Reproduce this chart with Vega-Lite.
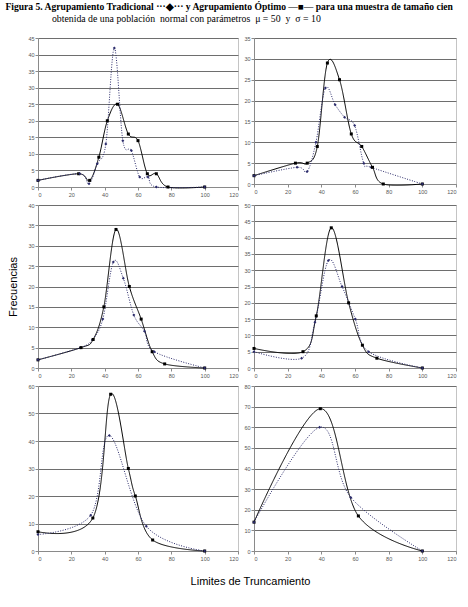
{
  "$schema": "https://vega.github.io/schema/vega-lite/v6.json",
  "padding": {"left": 5, "top": 2, "right": 5, "bottom": 5},
  "background": "white",
  "title": {
    "text": "Figura 5.  Agrupamiento Tradicional ···◆···  y  Agrupamiento Óptimo —■—  para una muestra de tamaño cien",
    "subtitle": "\u200b\u00a0\u00a0\u00a0\u00a0\u00a0\u00a0\u00a0\u00a0\u00a0\u00a0\u00a0\u00a0\u00a0\u00a0\u00a0\u00a0\u00a0\u00a0\u00a0obtenida de una población\u00a0 normal con parámetros\u00a0 μ = 50\u00a0 y\u00a0 σ = 10",
    "anchor": "start",
    "dx": -2,
    "font": "Liberation Serif",
    "fontSize": 9.6,
    "fontWeight": "bold",
    "color": "black",
    "subtitleFont": "Liberation Serif",
    "subtitleFontSize": 9.8,
    "subtitleColor": "black",
    "subtitlePadding": 2,
    "offset": 12
  },
  "datasets": {
    "p1": [
      {"serie": "Óptimo", "x": 0, "y": 2}, {"serie": "Óptimo", "x": 24.4, "y": 4}, {"serie": "Óptimo", "x": 31, "y": 2},
      {"serie": "Óptimo", "x": 36.5, "y": 9}, {"serie": "Óptimo", "x": 41.6, "y": 20}, {"serie": "Óptimo", "x": 47.7, "y": 25},
      {"serie": "Óptimo", "x": 54.2, "y": 16}, {"serie": "Óptimo", "x": 60, "y": 14}, {"serie": "Óptimo", "x": 65.6, "y": 4},
      {"serie": "Óptimo", "x": 71, "y": 4}, {"serie": "Óptimo", "x": 78, "y": 0}, {"serie": "Óptimo", "x": 100, "y": 0},
      {"serie": "Tradicional", "x": 0, "y": 2}, {"serie": "Tradicional", "x": 25, "y": 4}, {"serie": "Tradicional", "x": 30.6, "y": 1},
      {"serie": "Tradicional", "x": 35.6, "y": 7}, {"serie": "Tradicional", "x": 40.7, "y": 13}, {"serie": "Tradicional", "x": 45.8, "y": 42},
      {"serie": "Tradicional", "x": 50.9, "y": 14}, {"serie": "Tradicional", "x": 56, "y": 11}, {"serie": "Tradicional", "x": 61, "y": 3},
      {"serie": "Tradicional", "x": 66, "y": 3}, {"serie": "Tradicional", "x": 71, "y": 0}, {"serie": "Tradicional", "x": 100, "y": 0}
    ],
    "p2": [
      {"serie": "Óptimo", "x": 0, "y": 2}, {"serie": "Óptimo", "x": 24.6, "y": 5}, {"serie": "Óptimo", "x": 31.6, "y": 5},
      {"serie": "Óptimo", "x": 37.6, "y": 9}, {"serie": "Óptimo", "x": 43.6, "y": 29}, {"serie": "Óptimo", "x": 50.8, "y": 25},
      {"serie": "Óptimo", "x": 57.8, "y": 12}, {"serie": "Óptimo", "x": 64, "y": 9}, {"serie": "Óptimo", "x": 70.4, "y": 4},
      {"serie": "Óptimo", "x": 76.8, "y": 0}, {"serie": "Óptimo", "x": 100, "y": 0},
      {"serie": "Tradicional", "x": 0, "y": 2}, {"serie": "Tradicional", "x": 25.6, "y": 4}, {"serie": "Tradicional", "x": 31.6, "y": 3},
      {"serie": "Tradicional", "x": 36.8, "y": 10}, {"serie": "Tradicional", "x": 42.4, "y": 23}, {"serie": "Tradicional", "x": 48.2, "y": 19},
      {"serie": "Tradicional", "x": 53.8, "y": 16}, {"serie": "Tradicional", "x": 59.8, "y": 14}, {"serie": "Tradicional", "x": 65.2, "y": 5},
      {"serie": "Tradicional", "x": 69.6, "y": 4}, {"serie": "Tradicional", "x": 100, "y": 0}
    ],
    "p3": [
      {"serie": "Óptimo", "x": 0, "y": 2}, {"serie": "Óptimo", "x": 25.8, "y": 5}, {"serie": "Óptimo", "x": 33.1, "y": 7},
      {"serie": "Óptimo", "x": 39.5, "y": 15}, {"serie": "Óptimo", "x": 46.8, "y": 34}, {"serie": "Óptimo", "x": 54.8, "y": 20},
      {"serie": "Óptimo", "x": 61.9, "y": 12}, {"serie": "Óptimo", "x": 68.5, "y": 4}, {"serie": "Óptimo", "x": 76, "y": 1},
      {"serie": "Óptimo", "x": 100, "y": 0},
      {"serie": "Tradicional", "x": 0, "y": 2}, {"serie": "Tradicional", "x": 25.4, "y": 5}, {"serie": "Tradicional", "x": 32.7, "y": 7},
      {"serie": "Tradicional", "x": 38.9, "y": 12}, {"serie": "Tradicional", "x": 45.2, "y": 26}, {"serie": "Tradicional", "x": 51.2, "y": 22},
      {"serie": "Tradicional", "x": 57.5, "y": 13}, {"serie": "Tradicional", "x": 63.9, "y": 9}, {"serie": "Tradicional", "x": 69.8, "y": 4},
      {"serie": "Tradicional", "x": 100, "y": 0}
    ],
    "p4": [
      {"serie": "Óptimo", "x": 0, "y": 6}, {"serie": "Óptimo", "x": 29.1, "y": 5}, {"serie": "Óptimo", "x": 37, "y": 16},
      {"serie": "Óptimo", "x": 45.9, "y": 43}, {"serie": "Óptimo", "x": 56.2, "y": 20}, {"serie": "Óptimo", "x": 64.4, "y": 7},
      {"serie": "Óptimo", "x": 73, "y": 3}, {"serie": "Óptimo", "x": 100, "y": 0},
      {"serie": "Tradicional", "x": 0, "y": 5}, {"serie": "Tradicional", "x": 28.3, "y": 3}, {"serie": "Tradicional", "x": 36.2, "y": 14},
      {"serie": "Tradicional", "x": 44.2, "y": 33}, {"serie": "Tradicional", "x": 52.3, "y": 25}, {"serie": "Tradicional", "x": 60.2, "y": 15},
      {"serie": "Tradicional", "x": 68.1, "y": 5}, {"serie": "Tradicional", "x": 100, "y": 0}
    ],
    "p5": [
      {"serie": "Óptimo", "x": 0, "y": 7}, {"serie": "Óptimo", "x": 32.9, "y": 12}, {"serie": "Óptimo", "x": 43.6, "y": 57},
      {"serie": "Óptimo", "x": 54.2, "y": 30}, {"serie": "Óptimo", "x": 58.4, "y": 20}, {"serie": "Óptimo", "x": 68.8, "y": 4},
      {"serie": "Óptimo", "x": 100, "y": 0},
      {"serie": "Tradicional", "x": 0, "y": 6}, {"serie": "Tradicional", "x": 31.6, "y": 13}, {"serie": "Tradicional", "x": 42.8, "y": 42},
      {"serie": "Tradicional", "x": 65, "y": 9}, {"serie": "Tradicional", "x": 100, "y": 0}
    ],
    "p6": [
      {"serie": "Óptimo", "x": 0, "y": 14}, {"serie": "Óptimo", "x": 39.4, "y": 69}, {"serie": "Óptimo", "x": 62, "y": 17},
      {"serie": "Óptimo", "x": 100, "y": 0},
      {"serie": "Tradicional", "x": 0, "y": 14}, {"serie": "Tradicional", "x": 39, "y": 60}, {"serie": "Tradicional", "x": 57.5, "y": 26},
      {"serie": "Tradicional", "x": 100, "y": 0}
    ]
  },
  "concat": [
    {
      "width": 200, "height": 149,
      "data": {"name": "p1"},
      "encoding": {
        "x": {"field": "x", "type": "quantitative", "scale": {"domain": [0, 120], "nice": false}, "axis": {"values": [0, 20, 40, 60, 80, 100, 120], "title": null, "grid": false}},
        "y": {"field": "y", "type": "quantitative", "scale": {"domain": [0, 45], "nice": false}, "axis": {"values": [0, 5, 10, 15, 20, 25, 30, 35, 40, 45], "title": null}},
        "color": {"field": "serie", "type": "nominal", "scale": {"domain": ["Tradicional", "Óptimo"], "range": ["#2b2b6b", "#000000"]}, "legend": null},
        "order": {"field": "x"}
      },
      "layer": [
        {"mark": {"type": "line", "interpolate": "cardinal", "strokeWidth": 1}, "encoding": {"strokeDash": {"field": "serie", "type": "nominal", "scale": {"domain": ["Tradicional", "Óptimo"], "range": [[1, 1.5], [1, 0]]}, "legend": null}}},
        {"mark": {"type": "point", "filled": true, "size": 9, "opacity": 1}, "encoding": {"shape": {"field": "serie", "type": "nominal", "scale": {"domain": ["Tradicional", "Óptimo"], "range": ["diamond", "square"]}, "legend": null}}}
      ]
    },
    {
      "width": 202, "height": 146,
      "data": {"name": "p2"},
      "encoding": {
        "x": {"field": "x", "type": "quantitative", "scale": {"domain": [0, 120], "nice": false}, "axis": {"values": [0, 20, 40, 60, 80, 100, 120], "title": null, "grid": false}},
        "y": {"field": "y", "type": "quantitative", "scale": {"domain": [0, 35], "nice": false}, "axis": {"values": [0, 5, 10, 15, 20, 25, 30, 35], "title": null}},
        "color": {"field": "serie", "type": "nominal", "scale": {"domain": ["Tradicional", "Óptimo"], "range": ["#2b2b6b", "#000000"]}, "legend": null},
        "order": {"field": "x"}
      },
      "layer": [
        {"mark": {"type": "line", "interpolate": "cardinal", "strokeWidth": 1}, "encoding": {"strokeDash": {"field": "serie", "type": "nominal", "scale": {"domain": ["Tradicional", "Óptimo"], "range": [[1, 1.5], [1, 0]]}, "legend": null}}},
        {"mark": {"type": "point", "filled": true, "size": 9, "opacity": 1}, "encoding": {"shape": {"field": "serie", "type": "nominal", "scale": {"domain": ["Tradicional", "Óptimo"], "range": ["diamond", "square"]}, "legend": null}}}
      ]
    },
    {
      "width": 200, "height": 163,
      "data": {"name": "p3"},
      "encoding": {
        "x": {"field": "x", "type": "quantitative", "scale": {"domain": [0, 120], "nice": false}, "axis": {"values": [0, 20, 40, 60, 80, 100, 120], "title": null, "grid": false}},
        "y": {"field": "y", "type": "quantitative", "scale": {"domain": [0, 40], "nice": false}, "axis": {"values": [0, 5, 10, 15, 20, 25, 30, 35, 40], "title": "Frecuencias", "titleFont": "Liberation Sans", "titleFontSize": 11, "titleFontWeight": "normal", "titleColor": "black", "titlePadding": 9}},
        "color": {"field": "serie", "type": "nominal", "scale": {"domain": ["Tradicional", "Óptimo"], "range": ["#2b2b6b", "#000000"]}, "legend": null},
        "order": {"field": "x"}
      },
      "layer": [
        {"mark": {"type": "line", "interpolate": "cardinal", "strokeWidth": 1}, "encoding": {"strokeDash": {"field": "serie", "type": "nominal", "scale": {"domain": ["Tradicional", "Óptimo"], "range": [[1, 1.5], [1, 0]]}, "legend": null}}},
        {"mark": {"type": "point", "filled": true, "size": 9, "opacity": 1}, "encoding": {"shape": {"field": "serie", "type": "nominal", "scale": {"domain": ["Tradicional", "Óptimo"], "range": ["diamond", "square"]}, "legend": null}}}
      ]
    },
    {
      "width": 202, "height": 163,
      "data": {"name": "p4"},
      "encoding": {
        "x": {"field": "x", "type": "quantitative", "scale": {"domain": [0, 120], "nice": false}, "axis": {"values": [0, 20, 40, 60, 80, 100, 120], "title": null, "grid": false}},
        "y": {"field": "y", "type": "quantitative", "scale": {"domain": [0, 50], "nice": false}, "axis": {"values": [0, 5, 10, 15, 20, 25, 30, 35, 40, 45, 50], "title": null}},
        "color": {"field": "serie", "type": "nominal", "scale": {"domain": ["Tradicional", "Óptimo"], "range": ["#2b2b6b", "#000000"]}, "legend": null},
        "order": {"field": "x"}
      },
      "layer": [
        {"mark": {"type": "line", "interpolate": "cardinal", "strokeWidth": 1}, "encoding": {"strokeDash": {"field": "serie", "type": "nominal", "scale": {"domain": ["Tradicional", "Óptimo"], "range": [[1, 1.5], [1, 0]]}, "legend": null}}},
        {"mark": {"type": "point", "filled": true, "size": 9, "opacity": 1}, "encoding": {"shape": {"field": "serie", "type": "nominal", "scale": {"domain": ["Tradicional", "Óptimo"], "range": ["diamond", "square"]}, "legend": null}}}
      ]
    },
    {
      "width": 200, "height": 165,
      "data": {"name": "p5"},
      "encoding": {
        "x": {"field": "x", "type": "quantitative", "scale": {"domain": [0, 120], "nice": false}, "axis": {"values": [0, 20, 40, 60, 80, 100, 120], "grid": false, "title": "Limites de Truncamiento", "titleFont": "Liberation Sans", "titleFontSize": 11, "titleFontWeight": "normal", "titleColor": "black", "titleX": 212, "titleY": 33, "titleBaseline": "alphabetic", "titleAlign": "center"}},
        "y": {"field": "y", "type": "quantitative", "scale": {"domain": [0, 60], "nice": false}, "axis": {"values": [0, 10, 20, 30, 40, 50, 60], "title": null}},
        "color": {"field": "serie", "type": "nominal", "scale": {"domain": ["Tradicional", "Óptimo"], "range": ["#2b2b6b", "#000000"]}, "legend": null},
        "order": {"field": "x"}
      },
      "layer": [
        {"mark": {"type": "line", "interpolate": "cardinal", "strokeWidth": 1}, "encoding": {"strokeDash": {"field": "serie", "type": "nominal", "scale": {"domain": ["Tradicional", "Óptimo"], "range": [[1, 1.5], [1, 0]]}, "legend": null}}},
        {"mark": {"type": "point", "filled": true, "size": 9, "opacity": 1}, "encoding": {"shape": {"field": "serie", "type": "nominal", "scale": {"domain": ["Tradicional", "Óptimo"], "range": ["diamond", "square"]}, "legend": null}}}
      ]
    },
    {
      "width": 202, "height": 165,
      "data": {"name": "p6"},
      "encoding": {
        "x": {"field": "x", "type": "quantitative", "scale": {"domain": [0, 120], "nice": false}, "axis": {"values": [0, 20, 40, 60, 80, 100, 120], "title": null, "grid": false}},
        "y": {"field": "y", "type": "quantitative", "scale": {"domain": [0, 80], "nice": false}, "axis": {"values": [0, 10, 20, 30, 40, 50, 60, 70, 80], "title": null}},
        "color": {"field": "serie", "type": "nominal", "scale": {"domain": ["Tradicional", "Óptimo"], "range": ["#2b2b6b", "#000000"]}, "legend": null},
        "order": {"field": "x"}
      },
      "layer": [
        {"mark": {"type": "line", "interpolate": "cardinal", "strokeWidth": 1}, "encoding": {"strokeDash": {"field": "serie", "type": "nominal", "scale": {"domain": ["Tradicional", "Óptimo"], "range": [[1, 1.5], [1, 0]]}, "legend": null}}},
        {"mark": {"type": "point", "filled": true, "size": 9, "opacity": 1}, "encoding": {"shape": {"field": "serie", "type": "nominal", "scale": {"domain": ["Tradicional", "Óptimo"], "range": ["diamond", "square"]}, "legend": null}}}
      ]
    }
  ],
  "columns": 2,
  "align": "each",
  "bounds": "flush",
  "spacing": {"row": 18, "column": 16},
  "resolve": {"scale": {"color": "independent", "shape": "independent", "strokeDash": "independent"}},
  "config": {
    "font": "Liberation Sans",
    "view": {"stroke": "#c4c4c4", "strokeWidth": 1},
    "axis": {
      "labelFont": "Liberation Sans",
      "labelFontSize": 5.5,
      "labelColor": "#555555",
      "labelPadding": 1,
      "tickSize": 3,
      "tickColor": "#8a8a8a",
      "domainColor": "#8a8a8a",
      "gridColor": "#6e6e6e",
      "gridWidth": 1,
      "gridOpacity": 1
    },
    "axisX": {"labelPadding": 2}
  }
}
